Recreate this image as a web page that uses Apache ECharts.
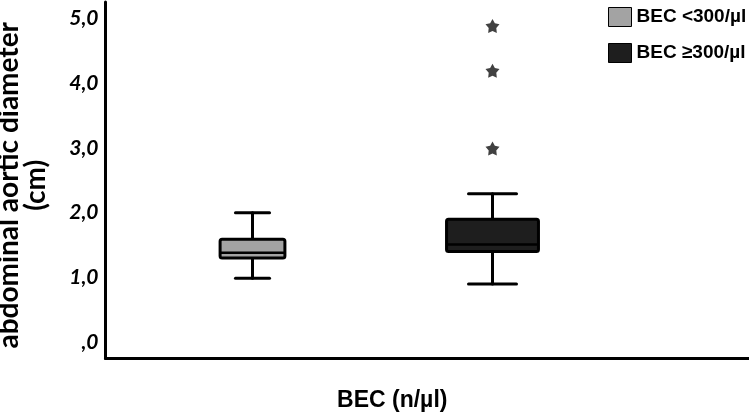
<!DOCTYPE html>
<html>
<head>
<meta charset="utf-8">
<script src="https://cdn.jsdelivr.net/npm/echarts@6/dist/echarts.min.js"></script>
<style>html,body{margin:0;padding:0;background:#fff}#c{width:749px;height:414px}</style>
</head>
<body>
<div id="c"></div>
<script>
// ---- data ----
const categories = ['BEC <300/µl', 'BEC ≥300/µl'];
// [low whisker, Q1, median, Q3, high whisker]
const boxLow  = [0.99, 0.90];
const boxQ1   = [1.30, 1.40];
const boxMed  = [1.38, 1.51];
const boxQ3   = [1.59, 1.90];
const boxHigh = [2.00, 2.29];
const outlierCategory = [1, 1, 1];
const outlierValues = [4.88, 4.19, 2.99];
const yTicks = [0, 1, 2, 3, 4, 5];

// ---- style ----
const fills = ['#a3a3a3', '#1e1e1e'];
const boxFrac = [0.27, 0.383];
const capFrac = [0.142, 0.2];

const chart = echarts.init(document.getElementById('c'), null, {renderer: 'canvas'});

const boxData = categories.map((c, i) => [i, boxLow[i], boxQ1[i], boxMed[i], boxQ3[i], boxHigh[i]]);

function renderBox(params, api) {
  const idx = api.value(0);
  const low = api.coord([idx, api.value(1)]);
  const q1 = api.coord([idx, api.value(2)]);
  const med = api.coord([idx, api.value(3)]);
  const q3 = api.coord([idx, api.value(4)]);
  const high = api.coord([idx, api.value(5)]);
  const band = api.size([1, 0])[0];
  const bw = boxFrac[idx] * band;
  const cw = capFrac[idx] * band;
  const x = low[0];
  const ls = {stroke: '#000', lineWidth: 3, lineCap: 'round'};
  return {
    type: 'group',
    children: [
      {type: 'line', shape: {x1: x, y1: high[1], x2: x, y2: q3[1]}, style: ls},
      {type: 'line', shape: {x1: x, y1: q1[1], x2: x, y2: low[1]}, style: ls},
      {type: 'line', shape: {x1: x - cw / 2, y1: high[1], x2: x + cw / 2, y2: high[1]}, style: ls},
      {type: 'line', shape: {x1: x - cw / 2, y1: low[1], x2: x + cw / 2, y2: low[1]}, style: ls},
      {type: 'rect', shape: {x: x - bw / 2, y: q3[1], width: bw, height: q1[1] - q3[1], r: 2},
        style: {fill: fills[idx], stroke: '#000', lineWidth: 3}},
      {type: 'line', shape: {x1: x - bw / 2, y1: med[1], x2: x + bw / 2, y2: med[1]},
        style: {stroke: '#000', lineWidth: 2.5}}
    ]
  };
}

const starPath = 'path://M50,2 L65.3,29 L95.6,35.2 L74.7,58 L78.2,88.8 L50,76 L21.8,88.8 L25.3,58 L4.4,35.2 L34.7,29 Z';

const yMin = -0.25, yMax = 5.25;

chart.setOption({
  animation: false,
  backgroundColor: '#fff',
  grid: [
    {left: 105.5, right: 0, top: 2, bottom: 55.5, outerBoundsMode: 'none', containLabel: false},
    {left: 132.5, right: 136.5, top: 2, bottom: 55.5, outerBoundsMode: 'none', containLabel: false}
  ],
  legend: {
    orient: 'vertical',
    left: 603, top: 2,
    itemWidth: 23, itemHeight: 19, itemGap: 16,
    icon: 'rect',
    data: categories,
    itemStyle: {borderColor: '#000', borderWidth: 1},
    textStyle: {fontFamily: 'Liberation Sans, Arial', fontWeight: 'bold', fontSize: 19, color: '#000'},
    selectedMode: false
  },
  xAxis: [
    {
      gridIndex: 0, type: 'category', data: categories,
      axisLine: {show: true, onZero: false, lineStyle: {color: '#000', width: 3}},
      axisTick: {show: false}, axisLabel: {show: false}, splitLine: {show: false},
      name: 'BEC (n/µl)', nameLocation: 'middle', nameGap: 31,
      nameTextStyle: {fontFamily: 'Liberation Sans, Arial', fontWeight: 'bold', fontSize: 23, color: '#000', padding: [0, 70, 0, 0]}
    },
    {
      gridIndex: 1, type: 'category', data: categories,
      axisLine: {show: false, onZero: false}, axisTick: {show: false}, axisLabel: {show: false}, splitLine: {show: false}
    }
  ],
  yAxis: [
    {
      gridIndex: 0, type: 'value', min: yMin, max: yMax,
      axisLine: {show: true, lineStyle: {color: '#000', width: 3}},
      axisTick: {show: false}, splitLine: {show: false},
      axisLabel: {
        customValues: yTicks, margin: 7,
        fontFamily: 'Lato', fontWeight: 'bold', fontStyle: 'italic', fontSize: 21, color: '#000',
        formatter: v => v === 0 ? ',0' : v.toFixed(1).replace('.', ',')
      },
      name: 'abdominal aortic diameter\n(cm)', nameLocation: 'middle', nameGap: 56, nameRotate: 90,
      nameTextStyle: {fontFamily: 'Lato', fontWeight: 'bold', fontSize: 28, color: '#000', lineHeight: 27, padding: [0, 10, 0, 0]}
    },
    {
      gridIndex: 1, type: 'value', min: yMin, max: yMax, show: false
    }
  ],
  series: [
    {
      name: categories[0], type: 'custom', xAxisIndex: 1, yAxisIndex: 1,
      itemStyle: {color: fills[0]}, renderItem: renderBox,
      data: [boxData[0]], encode: {x: 0, y: [1, 2, 3, 4, 5]}
    },
    {
      name: categories[1], type: 'custom', xAxisIndex: 1, yAxisIndex: 1,
      itemStyle: {color: fills[1]}, renderItem: renderBox,
      data: [boxData[1]], encode: {x: 0, y: [1, 2, 3, 4, 5]}
    },
    {
      name: 'outliers', type: 'scatter', xAxisIndex: 1, yAxisIndex: 1,
      symbol: starPath, symbolSize: 14,
      itemStyle: {color: '#111'},
      data: outlierValues.map((v, i) => [outlierCategory[i], v])
    }
  ]
});
</script>
</body>
</html>
